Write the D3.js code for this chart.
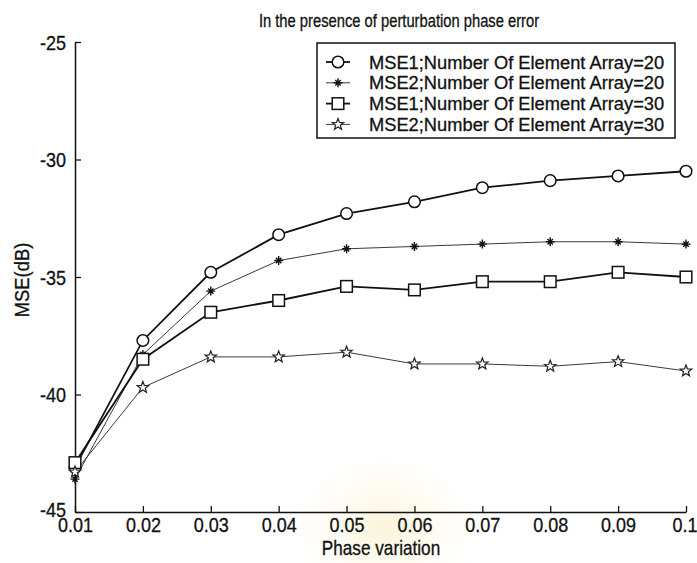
<!DOCTYPE html>
<html>
<head>
<meta charset="utf-8">
<script src="https://cdn.jsdelivr.net/npm/d3@7"></script>
<style>
  html, body { margin: 0; padding: 0; background: #fff; }
  svg { display: block; }
  text { font-family: "Liberation Sans", Arial, sans-serif; fill: #111; stroke: #111; stroke-width: 0.3px; }
</style>
</head>
<body>
<svg id="chart" width="697" height="563"></svg>
<script>
// Phase variation values (x axis)
const phaseVariation = [0.01, 0.02, 0.03, 0.04, 0.05, 0.06, 0.07, 0.08, 0.09, 0.1];

// MSE (dB) for each configuration
const mse1N20 = [-43.1, -37.7, -34.8, -33.2, -32.3, -31.8, -31.2, -30.9, -30.7, -30.5];
const mse2N20 = [-43.6, -38.3, -35.6, -34.3, -33.8, -33.7, -33.6, -33.5, -33.5, -33.6];
const mse1N30 = [-42.9, -38.5, -36.5, -36.0, -35.4, -35.55, -35.2, -35.2, -34.8, -35.0];
const mse2N30 = [-43.3, -39.7, -38.4, -38.4, -38.2, -38.7, -38.7, -38.8, -38.6, -39.0];

const seriesNames = [
  "MSE1;Number Of Element Array=20",
  "MSE2;Number Of Element Array=20",
  "MSE1;Number Of Element Array=30",
  "MSE2;Number Of Element Array=30"
];
const seriesMarkers = ["circle", "asterisk", "square", "pentagram"];

const xTicks = [0.01, 0.02, 0.03, 0.04, 0.05, 0.06, 0.07, 0.08, 0.09, 0.1];
const xTickLabels = ["0.01", "0.02", "0.03", "0.04", "0.05", "0.06", "0.07", "0.08", "0.09", "0.1"];
const yTicks = [-45, -40, -35, -30, -25];
const yTickLabels = ["-45", "-40", "-35", "-30", "-25"];

const titleText = "In the presence of perturbation phase error";
const xLabel = "Phase variation";
const yLabel = "MSE(dB)";

const series = [mse1N20, mse2N20, mse1N30, mse2N30].map((vals, i) => ({
  name: seriesNames[i],
  marker: seriesMarkers[i],
  points: vals.map((v, j) => ({ x: phaseVariation[j], y: v }))
}));

const svg = d3.select("#chart");
const W = 697, H = 563;
const margin = { left: 75, right: 11, top: 42, bottom: 51 };
const tickSqueeze = 0.9; // tick numerals are slightly condensed

// faint background seal tint near the bottom
const defs = svg.append("defs");
const grad = defs.append("radialGradient").attr("id", "tint");
grad.append("stop").attr("offset", "0%").attr("stop-color", "#f3e3a0").attr("stop-opacity", 0.4);
grad.append("stop").attr("offset", "100%").attr("stop-color", "#fbf4d8").attr("stop-opacity", 0);
svg.append("ellipse").attr("cx", 385).attr("cy", 528).attr("rx", 95).attr("ry", 80)
  .attr("fill", "url(#tint)");

const x = d3.scaleLinear().domain([0.01, 0.1]).range([margin.left, W - margin.right]);
const y = d3.scaleLinear().domain([-45, -25]).range([H - margin.bottom, margin.top]);

// axes: left and bottom only, ticks pointing inward
const xAxis = d3.axisBottom(x).tickValues(xTicks)
  .tickFormat((d, i) => xTickLabels[i]).tickSizeInner(-6).tickSizeOuter(0).tickPadding(9);
const yAxis = d3.axisLeft(y).tickValues(yTicks)
  .tickFormat((d, i) => yTickLabels[i]).tickSizeInner(-6).tickSizeOuter(0).tickPadding(9);

const gx = svg.append("g").attr("transform", `translate(0,${H - margin.bottom})`).call(xAxis);
const gy = svg.append("g").attr("transform", `translate(${margin.left},0)`).call(yAxis);
[gx, gy].forEach(g => {
  g.select(".domain").attr("stroke", "#111").attr("stroke-width", 1.5);
  g.selectAll(".tick line").attr("stroke", "#111").attr("stroke-width", 1.3);
  g.selectAll(".tick text").attr("font-size", 20).attr("fill", "#111")
    .style("font-family", "'Liberation Sans', Arial, sans-serif");
});
gx.selectAll(".tick text").attr("dy", "0.55em").attr("transform", `scale(${tickSqueeze},1)`);
// last x label sits flush with the right edge
gx.selectAll(".tick").filter(d => d === 0.1).select("text")
  .attr("text-anchor", "end").attr("x", (W - x(0.1)) / tickSqueeze);
gy.selectAll(".tick text").attr("dy", "0.36em")
  .attr("x", -9 / tickSqueeze).attr("transform", `scale(${tickSqueeze},1)`);
gy.selectAll(".tick").filter(d => d === -45).select("text").attr("dy", "0.2em");

// marker drawing
const star5 = (r) => {
  const pts = [];
  for (let k = 0; k < 10; k++) {
    const rad = k % 2 === 0 ? r : r * 0.42;
    const a = -Math.PI / 2 + k * Math.PI / 5;
    pts.push([rad * Math.cos(a), rad * Math.sin(a)]);
  }
  return "M" + pts.map(p => p.join(",")).join("L") + "Z";
};

function drawMarker(g, type, cx, cy) {
  const m = g.append("g").attr("transform", `translate(${cx},${cy})`);
  if (type === "circle") {
    m.append("circle").attr("r", 5.8).attr("fill", "#fff").attr("stroke", "#111").attr("stroke-width", 1.5);
  } else if (type === "square") {
    m.append("rect").attr("x", -5.8).attr("y", -5.8).attr("width", 11.6).attr("height", 11.6)
      .attr("fill", "#fff").attr("stroke", "#111").attr("stroke-width", 1.5);
  } else if (type === "asterisk") {
    const r = 4.5;
    m.append("path")
      .attr("d", `M0,${-r}V${r}M${-r},0H${r}M${-r * 0.6},${-r * 0.6}L${r * 0.6},${r * 0.6}M${-r * 0.6},${r * 0.6}L${r * 0.6},${-r * 0.6}`)
      .attr("stroke", "#111").attr("stroke-width", 1.4).attr("fill", "none");
  } else if (type === "pentagram") {
    m.append("path").attr("d", star5(6)).attr("fill", "#fff").attr("stroke", "#222").attr("stroke-width", 1.2);
  }
}

const lineStyles = {
  circle: { w: 1.8, c: "#111" },
  asterisk: { w: 1.0, c: "#3a3a3a" },
  square: { w: 1.8, c: "#111" },
  pentagram: { w: 1.0, c: "#3a3a3a" }
};

const line = d3.line().x(d => x(d.x)).y(d => y(d.y));
const plot = svg.append("g");
series.forEach(s => {
  const st = lineStyles[s.marker];
  plot.append("path").datum(s.points).attr("d", line)
    .attr("fill", "none").attr("stroke", st.c).attr("stroke-width", st.w);
});
series.forEach(s => {
  s.points.forEach(p => drawMarker(plot, s.marker, x(p.x), y(p.y)));
});

// legend
const lg = svg.append("g");
const lgX = 317, lgY = 43, lgW = 358, lgH = 95;
lg.append("rect").attr("x", lgX).attr("y", lgY).attr("width", lgW).attr("height", lgH)
  .attr("fill", "#fff").attr("stroke", "#111").attr("stroke-width", 1.5);
series.forEach((s, i) => {
  const cy = lgY + 19 + i * 20.8;
  const st = lineStyles[s.marker];
  lg.append("line").attr("x1", lgX + 9).attr("x2", lgX + 33).attr("y1", cy).attr("y2", cy)
    .attr("stroke", st.c).attr("stroke-width", st.w);
  drawMarker(lg, s.marker, lgX + 21, cy);
  lg.append("text").attr("x", lgX + 52).attr("y", cy).attr("dy", "0.36em")
    .attr("font-size", 18.3).text(s.name);
});

// title and axis labels (condensed horizontally)
svg.append("text").attr("transform", "translate(399,27) scale(0.82,1)")
  .attr("text-anchor", "middle").attr("font-size", 18).text(titleText);
svg.append("text").attr("transform", "translate(381,555) scale(0.86,1)")
  .attr("text-anchor", "middle").attr("font-size", 20).text(xLabel);
svg.append("text").attr("transform", `translate(29,${y(-35) + 3}) rotate(-90) scale(0.92,1)`)
  .attr("text-anchor", "middle").attr("font-size", 20).text(yLabel);
</script>
</body>
</html>
